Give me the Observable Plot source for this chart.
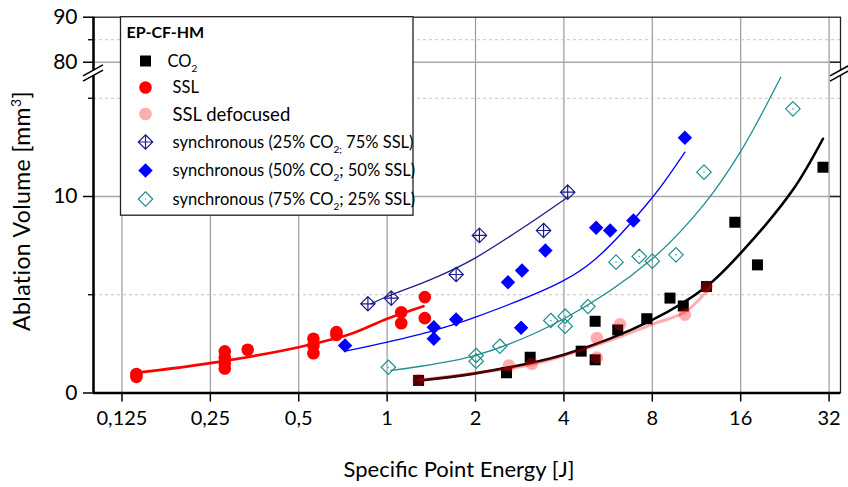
<!DOCTYPE html>
<html><head><meta charset="utf-8">
<script src="https://cdn.jsdelivr.net/npm/d3@7"></script>
<script src="https://cdn.jsdelivr.net/npm/@observablehq/plot@0.6"></script>
<style>body{margin:0;background:#fff} svg{display:block}</style>
</head><body><div id="chart"></div>
<script>
// ---------- data ----------
const xTicks = [0.125, 0.25, 0.5, 1, 2, 4, 8, 16, 32];
const yTicks = [0, 10, 80, 90];
const yMinorTicks = [5, 15, 85];
const yGridSolid = [10, 80];
const yGridDashed = [5, 15, 85];

const co2X = [1.28, 2.55, 3.07, 4.58, 5.11, 5.11, 6.1, 7.66, 9.19, 10.2, 12.24, 15.28, 18.25, 30.5];
const co2Y = [0.64, 1.03, 1.82, 2.13, 1.69, 3.65, 3.21, 3.78, 4.83, 4.43, 5.42, 8.69, 6.52, 11.49];

const sslX = [0.14, 0.14, 0.28, 0.28, 0.28, 0.28, 0.335, 0.561, 0.561, 0.561, 0.672, 0.672, 1.117, 1.117, 1.344, 1.344];
const sslY = [0.82, 0.97, 2.12, 1.78, 1.5, 1.25, 2.2, 2.76, 2.42, 2.02, 3.1, 2.96, 4.11, 3.55, 4.88, 3.81];

const defX = [1.28, 2.6, 3.11, 5.18, 5.18, 6.21, 10.33, 12.24];
const defY = [0.66, 1.4, 1.49, 2.8, 1.8, 3.5, 3.99, 5.4];

const s25X = [0.86, 1.033, 1.718, 2.062, 3.41, 4.12];
const s25Y = [4.54, 4.83, 6.03, 8.02, 8.27, 10.22];

const s50X = [0.719, 1.442, 1.442, 1.718, 2.86, 2.58, 2.88, 3.46, 5.15, 5.75, 6.9, 10.33];
const s50Y = [2.42, 3.35, 2.76, 3.74, 3.32, 5.64, 6.23, 7.25, 8.41, 8.27, 8.78, 12.99];

const s75X = [1.01, 2.01, 2.01, 2.42, 3.61, 4.04, 4.04, 4.83, 6.02, 7.22, 8.0, 9.63, 12.0, 24.1];
const s75Y = [1.31, 1.91, 1.62, 2.38, 3.69, 3.91, 3.40, 4.40, 6.66, 6.95, 6.71, 7.03, 11.24, 14.46];

// fitted curves
const co2FitX = [1.29, 2, 4, 8, 12.24, 16, 24, 30.5];
const co2FitY = [0.64, 1.0, 1.95, 3.72, 5.42, 7.12, 10.3, 12.94];
const defFitX = [1.28, 2, 3, 4, 6, 8, 10.33, 12.7];
const defFitY = [0.66, 1.02, 1.4, 1.9, 2.78, 3.5, 4.12, 5.45];
const sslFitX = [0.14, 0.25, 0.5, 0.75, 1, 1.33];
const sslFitY = [1.03, 1.52, 2.33, 3.0, 3.78, 4.42];
const s25FitX = [0.88, 1, 1.5, 2, 3, 4.12];
const s25FitY = [4.54, 4.91, 5.95, 6.88, 8.55, 9.96];
const s50FitX = [0.72, 1, 1.44, 2, 4, 5.15, 8, 10.33];
const s50FitY = [2.13, 2.59, 3.18, 3.86, 5.73, 6.85, 9.95, 12.26];
const s75FitX = [1.03, 2, 4, 8, 12, 16, 21.9];
const s75FitY = [1.15, 1.91, 3.78, 6.83, 9.6, 12.3, 16.07];

// ---------- helpers ----------
const pts = (xs, ys) => xs.map((x, i) => ({x, y: ys[i]}));
const fmtX = d => String(d).replace(".", ",");
const fontFamily = "Lato, 'Open Sans', sans-serif";
const NAVY = "#1c1c8a", BLUE = "#0000ff", TEAL = "#1f8f8f", RED = "#ff0000";

const diamondCross = {draw(ctx, size) {
  const r = Math.sqrt(size) * 0.62625;
  ctx.moveTo(0, -r); ctx.lineTo(r, 0); ctx.lineTo(0, r); ctx.lineTo(-r, 0); ctx.closePath();
  ctx.moveTo(-r, 0); ctx.lineTo(r, 0); ctx.moveTo(0, -r); ctx.lineTo(0, r);
}};
const diamondDot = {draw(ctx, size) {
  const r = Math.sqrt(size) * 0.62625;
  ctx.moveTo(0, -r); ctx.lineTo(r, 0); ctx.lineTo(0, r); ctx.lineTo(-r, 0); ctx.closePath();
  ctx.moveTo(-0.6, 0); ctx.lineTo(0.6, 0);
}};

const W = 848, H = 487;
const mL = 93, mR = 8;
const yBottom = 392.5, yTop = 16.7, yBreak = 73;

const plot = Plot.plot({
  width: W, height: H,
  marginLeft: mL, marginRight: mR, marginTop: yTop, marginBottom: H - yBottom,
  style: {fontFamily, background: "white", color: "black"},
  x: {type: "log", base: 2, domain: [0.1, 35]},
  y: {type: "linear", domain: [0, 16.26, 77.5, 90], range: [yBottom, yBreak, yBreak, yTop]},
  marks: [
    Plot.ruleX(xTicks, {stroke: "#9a9a9a", strokeWidth: 1.2}),
    Plot.ruleY(yGridSolid, {stroke: "#a8a8a8", strokeWidth: 1.6}),
    Plot.ruleY(yGridDashed, {stroke: "#c4c4c4", strokeWidth: 1, strokeDasharray: "3,3"}),
    Plot.frame({stroke: "#222", strokeWidth: 1.3}),
    Plot.tickY(yGridSolid, {stroke: "#222", strokeWidth: 1.5, insetLeft: W - mL - mR - 10}),
    Plot.ruleX([0.1], {stroke: "black", strokeWidth: 2.5}),
    Plot.ruleY([0], {stroke: "black", strokeWidth: 2.5}),
    Plot.axisX({ticks: xTicks, tickFormat: fmtX, tickSize: 9, tickPadding: 9, fontSize: 20, label: null, strokeWidth: 1.5}),
    Plot.axisY({ticks: yTicks, tickSize: 10, tickPadding: 6, fontSize: 21, label: null, strokeWidth: 1.5}),
    Plot.axisY({ticks: yMinorTicks, tickSize: 5, tickFormat: () => "", label: null, strokeWidth: 1.3}),

    Plot.line(pts(s25FitX, s25FitY), {x: "x", y: "y", stroke: NAVY, strokeWidth: 1.3, curve: "catmull-rom"}),
    Plot.dot(pts(s25X, s25Y), {x: "x", y: "y", symbol: diamondCross, r: 6.5, fill: "none", stroke: NAVY, strokeWidth: 1.2}),
    Plot.line(pts(s50FitX, s50FitY), {x: "x", y: "y", stroke: BLUE, strokeWidth: 1.3, curve: "catmull-rom"}),
    Plot.dot(pts(s50X, s50Y), {x: "x", y: "y", symbol: "diamond2", r: 6.5, fill: BLUE, stroke: "none"}),
    Plot.line(pts(s75FitX, s75FitY), {x: "x", y: "y", stroke: TEAL, strokeWidth: 1.3, curve: "catmull-rom"}),
    Plot.dot(pts(s75X, s75Y), {x: "x", y: "y", symbol: diamondDot, r: 6.5, fill: "none", stroke: TEAL, strokeWidth: 1.2}),
    Plot.line(pts(sslFitX, sslFitY), {x: "x", y: "y", stroke: RED, strokeWidth: 2.6, curve: "catmull-rom"}),
    Plot.dot(pts(sslX, sslY), {x: "x", y: "y", r: 6.3, fill: RED, stroke: "none"}),
    Plot.line(pts(co2FitX, co2FitY), {x: "x", y: "y", stroke: "black", strokeWidth: 2.6, curve: "catmull-rom"}),
    Plot.dot(pts(co2X, co2Y), {x: "x", y: "y", symbol: "square", r: 6.2, fill: "black", stroke: "none"}),
    Plot.line(pts(defFitX, defFitY), {x: "x", y: "y", stroke: RED, strokeOpacity: 0.32, strokeWidth: 3, curve: "catmull-rom"}),
    Plot.dot(pts(defX, defY), {x: "x", y: "y", r: 6.3, fill: RED, fillOpacity: 0.32, stroke: "none"})
  ]
});

document.getElementById("chart").appendChild(plot);

// ---------- decorations ----------
const svg = d3.select(plot);
const xs = plot.scale("x"), ysc = plot.scale("y");
const xL = xs.apply(0.1), xR = W - mR;
const yb = ysc.apply(16.26);

// axis break marks
function breakMark(cx) {
  const g = svg.append("g");
  const dx = 10, dy = 5.5, gap = 2.6;
  g.append("path")
    .attr("d", `M${cx - dx},${yb + dy - gap}L${cx + dx},${yb - dy - gap}L${cx + dx},${yb - dy + gap}L${cx - dx},${yb + dy + gap}Z`)
    .attr("fill", "white");
  for (const s of [-gap, gap]) {
    g.append("line").attr("x1", cx - dx).attr("y1", yb + dy + s).attr("x2", cx + dx).attr("y2", yb - dy + s)
      .attr("stroke", "black").attr("stroke-width", 1.6);
  }
}
breakMark(xL);
breakMark(xR);

// axis titles
svg.append("text").attr("x", 459).attr("y", 477).attr("text-anchor", "middle")
  .attr("font-size", 22).attr("font-family", fontFamily).text("Specific Point Energy [J]");
const yt = svg.append("text").attr("transform", "translate(30,211) rotate(-90)").attr("text-anchor", "middle")
  .attr("font-size", 23).attr("letter-spacing", 0.4).attr("font-family", fontFamily);
yt.append("tspan").text("Ablation Volume [mm");
yt.append("tspan").attr("font-size", 14).attr("dy", -9).text("3");
yt.append("tspan").attr("dy", 9).text("]");

// legend
const lg = svg.append("g").attr("font-family", fontFamily).attr("text-anchor", "start");
lg.append("rect").attr("x", 120.5).attr("y", yTop).attr("width", 292.5).attr("height", 198.5)
  .attr("fill", "white").attr("stroke", "#222").attr("stroke-width", 1.3);
lg.append("text").attr("x", 126.5).attr("y", 37.5).attr("font-size", 16).attr("font-weight", "bold").text("EP-CF-HM");

const mx = 145.5;
const sym = (type, r) => d3.symbol().type(type).size(Math.PI * r * r)();
const rows = [
  {cy: 61,    tx: 167.5, shape: sym(d3.symbolSquare, 6.2), fill: "black", stroke: "none", parts: [["CO"], ["2", "sub"]]},
  {cy: 87.5,  tx: 172.5, shape: sym(d3.symbolCircle, 6.3), fill: RED, stroke: "none", parts: [["SSL"]]},
  {cy: 114,   tx: 172.5, shape: sym(d3.symbolCircle, 6.3), fill: RED, fillOpacity: 0.32, stroke: "none", parts: [["SSL defocused"]], fs: 18.5},
  {cy: 142,   tx: 172.5, shape: sym(diamondCross, 6.5), fill: "none", stroke: NAVY, parts: [["synchronous (25% CO"], ["2;", "sub"], [" 75% SSL)"]]},
  {cy: 170.5, tx: 172.5, shape: sym(d3.symbolDiamond2, 6.5), fill: BLUE, stroke: "none", parts: [["synchronous (50% CO"], ["2", "sub"], ["; 50% SSL)"]]},
  {cy: 199,   tx: 172.5, shape: sym(diamondDot, 6.5), fill: "none", stroke: TEAL, parts: [["synchronous (75% CO"], ["2", "sub"], ["; 25% SSL)"]]}
];
for (const r of rows) {
  lg.append("path").attr("d", r.shape).attr("transform", `translate(${mx},${r.cy})`)
    .attr("fill", r.fill).attr("fill-opacity", r.fillOpacity ?? 1).attr("stroke", r.stroke).attr("stroke-width", 1.2);
  const fs = r.fs ?? 16.5;
  const t = lg.append("text").attr("x", r.tx).attr("y", r.cy + fs * 0.36).attr("font-size", fs);
  let shifted = false;
  for (const [s, kind] of r.parts) {
    const sp = t.append("tspan").text(s);
    if (kind === "sub") { sp.attr("font-size", 10).attr("dy", 5); shifted = true; }
    else if (shifted) { sp.attr("dy", -5); shifted = false; }
  }
}
</script>
</body></html>
